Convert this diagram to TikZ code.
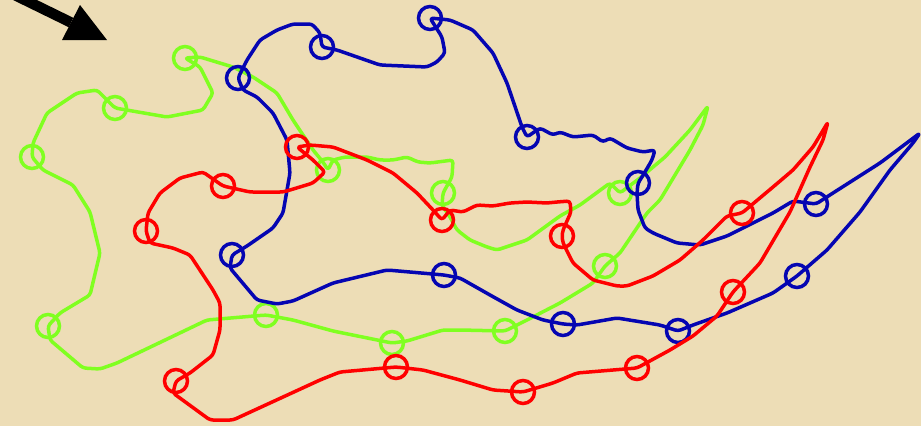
\documentclass[tikz,border=0pt]{standalone}
\usepackage{xcolor}
\usetikzlibrary{calc}

\definecolor{parchment}{RGB}{237,221,182}
\definecolor{limeline}{RGB}{128,255,32}
\definecolor{navyline}{RGB}{5,5,178}
\definecolor{redline}{RGB}{255,0,0}

\tikzset{
    curve/.style={line width=3.5pt, line join=round, line cap=round, rounded corners=3pt},
    ring/.style={circle, draw, line width=3.5pt, minimum size=23pt, inner sep=0pt},
}

\begin{document}
\begin{tikzpicture}[x=1pt,y=-1pt]
    % Background sheet
    \fill[parchment] (0,0) rectangle (921,426);
    \useasboundingbox (0,0) rectangle (921,426);

    % Pointer arrow
    \coordinate (tail) at (-20,-22);
    \coordinate (base) at (71,22.5);
    \coordinate (tip) at (107,40);
    \draw[line width=10.5pt] (tail) -- (base);
    \fill (80,5) -- (tip) -- (62,40) -- cycle;

    % Green loop
    \begin{scope}[limeline]
    \foreach \n/\p in {1/{(185,58)}, 2/{(115,108)}, 3/{(32,157)}, 4/{(48,326)},
                       5/{(266,315)}, 6/{(392,343)}, 7/{(505,331)}, 8/{(605,266)},
                       9/{(620,193)}, 10/{(443,193)}, 11/{(328,170)}}
        \node[ring] (g\n) at \p {};
    \draw[curve] (g1.center) -- (200,57) -- (233,67) -- (253,77) -- (277,93) -- (293,120)
        -- (313,150) -- (323,162) -- (g11.center) -- (333,160) -- (345,157) -- (367,157)
        -- (380,160) -- (393,160) -- (407,157) -- (418,162) -- (430,163) -- (453,160)
        -- (452,177) -- (g10.center) -- (442,205) -- (450,217) -- (457,230) -- (470,240)
        -- (487,247) -- (497,250) -- (527,240) -- (560,216) -- (580,205) -- (610,183)
        -- (g9.center) -- (640,178) -- (665,157) -- (690,130) -- (708,106) -- (703,125)
        -- (690,150) -- (675,175) -- (660,200) -- (647,213) -- (620,253) -- (g8.center)
        -- (593,283) -- (560,303) -- (527,320) -- (g7.center) -- (460,330) -- (443,330)
        -- (407,341) -- (g6.center) -- (333,331) -- (293,320) -- (g5.center) -- (207,320)
        -- (117,363) -- (100,369) -- (83,368) -- (50,340) -- (g4.center) -- (60,313)
        -- (90,295) -- (100,253) -- (90,212) -- (73,185) -- (43,170) -- (g3.center)
        -- (33,143) -- (47,113) -- (77,93) -- (97,90) -- (g2.center) -- (167,117)
        -- (203,110) -- (213,93) -- (200,67) -- cycle;
    \end{scope}

    % Blue loop
    \begin{scope}[navyline]
    \foreach \n/\p in {1/{(430,18)}, 2/{(527,137)}, 3/{(638,183)}, 4/{(816,204)},
                       5/{(797,276)}, 6/{(678,331)}, 7/{(563,324)}, 8/{(444,275)},
                       9/{(232,255)}, 10/{(238,78)}, 11/{(322,47)}}
        \node[ring] (b\n) at \p {};
    \draw[curve] (b1.center) -- (450,20) -- (473,30) -- (493,53) -- (507,83) -- (522,127)
        -- (b2.center) -- (540,128) -- (553,135) -- (560,132) -- (573,137) -- (593,135)
        -- (603,142) -- (610,138) -- (627,148) -- (643,152) -- (655,150) -- (652,160)
        -- (642,177) -- (b3.center) -- (637,193) -- (638,210) -- (645,228) -- (653,233)
        -- (677,243) -- (700,245) -- (727,236) -- (773,213) -- (793,201) -- (b4.center)
        -- (833,193) -- (880,163) -- (920,133) -- (913,143) -- (890,170) -- (860,212)
        -- (827,250) -- (b5.center) -- (773,293) -- (727,313) -- (693,325) -- (b6.center)
        -- (660,325) -- (617,318) -- (577,325) -- (b7.center) -- (543,320) -- (517,310)
        -- (490,295) -- (460,278) -- (b8.center) -- (387,270) -- (333,283) -- (293,301)
        -- (277,304) -- (257,300) -- (230,268) -- (b9.center) -- (247,246) -- (273,228)
        -- (283,213) -- (290,173) -- (287,140) -- (273,113) -- (257,97) -- (243,90)
        -- (b10.center) -- (247,60) -- (260,40) -- (277,30) -- (293,24) -- (312,24)
        -- (320,33) -- (b11.center) -- (337,50) -- (380,65) -- (427,67) -- (437,62)
        -- (445,53) -- (442,37) -- cycle;
    \end{scope}

    % Red loop
    \begin{scope}[redline]
    \foreach \n/\p in {1/{(297,147)}, 2/{(442,220)}, 3/{(562,236)}, 4/{(742,213)},
                       5/{(733,292)}, 6/{(637,368)}, 7/{(523,392)}, 8/{(396,367)},
                       9/{(176,381)}, 10/{(146,231)}, 11/{(223,186)}}
        \node[ring] (r\n) at \p {};
    \draw[curve] (r1.center) -- (310,145) -- (333,147) -- (367,160) -- (393,173)
        -- (417,193) -- (433,210) -- (r2.center) -- (450,210) -- (463,212) -- (477,205)
        -- (493,206) -- (510,203) -- (527,202) -- (547,203) -- (557,202) -- (570,201)
        -- (571,212) -- (563,230) -- (r3.center) -- (563,243) -- (573,263) -- (593,280)
        -- (617,286) -- (627,286) -- (653,276) -- (680,260) -- (703,240) -- (727,216)
        -- (r4.center) -- (773,187) -- (793,170) -- (813,147) -- (828,122) -- (823,140)
        -- (810,167) -- (790,212) -- (760,263) -- (r5.center) -- (717,316) -- (693,336)
        -- (670,350) -- (r6.center) -- (577,373) -- (553,383) -- (r7.center) -- (493,390)
        -- (460,380) -- (423,370) -- (r8.center) -- (340,372) -- (320,380) -- (233,420)
        -- (210,420) -- (173,393) -- (r9.center) -- (190,373) -- (213,355) -- (220,330)
        -- (220,303) -- (213,290) -- (190,255) -- (173,248) -- (150,243) -- (r10.center)
        -- (148,213) -- (160,193) -- (180,178) -- (203,172) -- (r11.center) -- (250,192)
        -- (283,192) -- (290,190) -- (313,183) -- (325,172) -- (313,160) -- cycle;
    \end{scope}
\end{tikzpicture}
\end{document}
